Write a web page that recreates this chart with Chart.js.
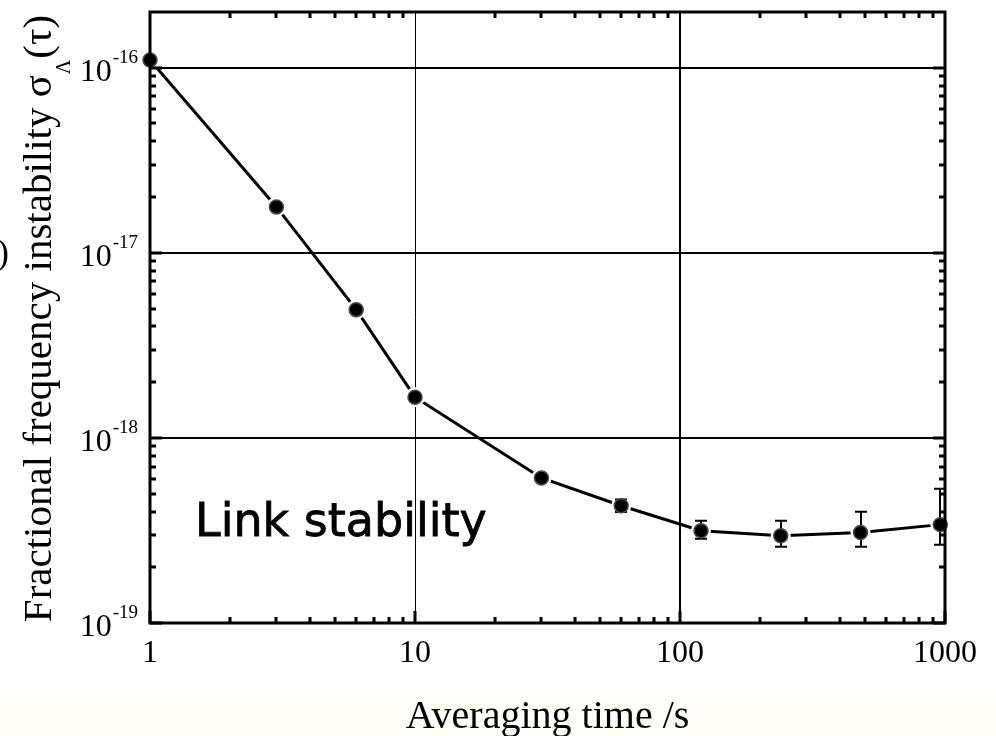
<!DOCTYPE html>
<html>
<head>
<meta charset="utf-8">
<script src="https://cdn.jsdelivr.net/npm/chart.js@4.4.1/dist/chart.umd.min.js"></script>
<style>
  html, body { margin: 0; padding: 0; background: #ffffff; }
  #wrap { width: 996px; height: 736px; }
</style>
</head>
<body>
<div id="wrap"><canvas id="c" width="996" height="736"></canvas></div>
<script>
// Averaging times (s) and Allan deviation of the link
const tau = [1, 3, 6, 10, 30, 60, 120, 240, 480, 960];
const sigma = [1.1e-16, 1.77e-17, 4.93e-18, 1.66e-18, 6.08e-19, 4.30e-19, 3.15e-19, 2.96e-19, 3.08e-19, 3.40e-19];
// Upper / lower ends of the error bars (null = no bar)
const errUpper = [null, null, null, null, 6.3e-19, 4.65e-19, 3.57e-19, 3.57e-19, 3.99e-19, 5.31e-19];
const errLower = [null, null, null, null, 5.85e-19, 3.98e-19, 2.85e-19, 2.58e-19, 2.58e-19, 2.65e-19];

// Axis ranges and labelled decades
const xRange = [1, 1000];
const yRange = [1e-19, 2e-16];
const xTickValues = [1, 10, 100, 1000];
const xTickLabels = ['1', '10', '100', '1000'];
const yTickValues = [1e-19, 1e-18, 1e-17, 1e-16];
const yTickExponents = ['-19', '-18', '-17', '-16'];
const xGridValues = [10, 100];
const yGridValues = [1e-18, 1e-17, 1e-16];
const minorMantissas = [2, 3, 4, 5, 6, 7, 8, 9];

const xTitle = 'Averaging time /s';
const yTitleMain = 'Fractional frequency instability \u03C3';
const yTitleSub = '\u039B';
const yTitleEnd = '(\u03C4)';
const noteText = 'Link stability';

const SERIF = '"Liberation Serif", "Times New Roman", serif';

const points = tau.map((t, i) => ({ x: t, y: sigma[i] }));

function minorValues(lo, hi) {
  const out = [];
  for (let d = lo; d < hi; d *= 10) {
    minorMantissas.forEach(m => { const v = m * d; if (v < hi) out.push(v); });
  }
  return out;
}

const decorations = {
  id: 'decorations',
  beforeDraw(chart) {
    const ctx = chart.ctx;
    ctx.save();
    ctx.fillStyle = '#ffffff';
    ctx.fillRect(0, 0, chart.width, chart.height);
    ctx.fillStyle = '#fefdf6';
    ctx.fillRect(0, 697, chart.width, chart.height - 697);
    ctx.restore();
  },
  afterDatasetDraw(chart, args) {
    if (args.index !== 1) return;
    // error bars sit between the white halo and the black marker
    const ctx = chart.ctx;
    const xs = chart.scales.x, ys = chart.scales.y;
    ctx.save();
    ctx.strokeStyle = '#000';
    ctx.lineWidth = 2;
    tau.forEach((t, i) => {
      if (errUpper[i] == null) return;
      const px = Math.round(xs.getPixelForValue(t));
      const yt = ys.getPixelForValue(errUpper[i]);
      const yb = ys.getPixelForValue(errLower[i]);
      ctx.beginPath();
      ctx.moveTo(px, yt); ctx.lineTo(px, yb);
      ctx.moveTo(px - 6, yt); ctx.lineTo(px + 6, yt);
      ctx.moveTo(px - 6, yb); ctx.lineTo(px + 6, yb);
      ctx.stroke();
    });
    ctx.restore();
  },
  afterDraw(chart) {
    const ctx = chart.ctx;
    const xs = chart.scales.x, ys = chart.scales.y;
    const a = chart.chartArea;
    ctx.save();

    // frame
    ctx.strokeStyle = '#000';
    ctx.lineWidth = 3;
    ctx.strokeRect(a.left, a.top, a.right - a.left, a.bottom - a.top);

    // inward ticks on all four sides
    ctx.lineWidth = 3;
    ctx.beginPath();
    minorValues(xRange[0], xRange[1]).forEach(v => {
      const px = Math.round(xs.getPixelForValue(v));
      ctx.moveTo(px, a.bottom); ctx.lineTo(px, a.bottom - 6);
      ctx.moveTo(px, a.top); ctx.lineTo(px, a.top + 6);
    });
    minorValues(1e-19, 1e-15).forEach(v => {
      if (v > yRange[1]) return;
      const py = Math.round(ys.getPixelForValue(v));
      ctx.moveTo(a.left, py); ctx.lineTo(a.left + 6, py);
      ctx.moveTo(a.right, py); ctx.lineTo(a.right - 6, py);
    });
    xTickValues.forEach(v => {
      const px = Math.round(xs.getPixelForValue(v));
      ctx.moveTo(px, a.bottom); ctx.lineTo(px, a.bottom - 12);
    });
    yTickValues.forEach(v => {
      const py = Math.round(ys.getPixelForValue(v));
      ctx.moveTo(a.left, py); ctx.lineTo(a.left + 12, py);
      ctx.moveTo(a.right, py); ctx.lineTo(a.right - 12, py);
    });
    ctx.stroke();

    ctx.fillStyle = '#000';
    // x tick labels
    ctx.font = '32px ' + SERIF;
    ctx.textAlign = 'center';
    ctx.textBaseline = 'alphabetic';
    xTickValues.forEach((v, i) => {
      ctx.fillText(xTickLabels[i], xs.getPixelForValue(v), 662);
    });

    // y tick labels: 10 with superscript exponent
    yTickValues.forEach((v, i) => {
      const py = ys.getPixelForValue(v);
      ctx.font = '19px ' + SERIF;
      const supW = ctx.measureText(yTickExponents[i]).width;
      ctx.textAlign = 'left';
      ctx.fillText(yTickExponents[i], 138 - supW, py - 5);
      ctx.font = '32px ' + SERIF;
      ctx.textAlign = 'right';
      ctx.fillText('10', 138 - supW - 1, py + 13);
    });

    // x title
    ctx.font = '40px ' + SERIF;
    ctx.textAlign = 'center';
    ctx.fillText(xTitle, (a.left + a.right) / 2, 728);

    // y title, rotated, with subscript
    ctx.save();
    ctx.translate(51, 318.5);
    ctx.rotate(-Math.PI / 2);
    ctx.textAlign = 'left';
    ctx.font = '41px ' + SERIF;
    const w1 = ctx.measureText(yTitleMain).width;
    const w3 = ctx.measureText(yTitleEnd).width;
    ctx.font = '20px ' + SERIF;
    const w2 = ctx.measureText(yTitleSub).width;
    const total = w1 + w2 + w3 + 2;
    let x0 = -total / 2;
    ctx.font = '41px ' + SERIF;
    ctx.fillText(yTitleMain, x0, 0);
    ctx.font = '20px ' + SERIF;
    ctx.fillText(yTitleSub, x0 + w1 + 1, 19);
    ctx.font = '41px ' + SERIF;
    ctx.fillText(yTitleEnd, x0 + w1 + w2 + 2, 0);
    ctx.restore();

    // stray parenthesis at the left edge
    ctx.font = '36px ' + SERIF;
    ctx.textAlign = 'right';
    ctx.fillText(')', 9, 264);

    // annotation
    ctx.font = '46px "DejaVu Sans", sans-serif';
    ctx.textAlign = 'left';
    ctx.lineWidth = 0.8;
    ctx.strokeStyle = '#000';
    ctx.fillText(noteText, 195, 536);
    ctx.strokeText(noteText, 195, 536);

    ctx.restore();
  }
};

new Chart(document.getElementById('c'), {
  type: 'line',
  data: {
    datasets: [
      {
        data: points, borderColor: '#000', borderWidth: 3, pointRadius: 0,
        fill: false, tension: 0, order: 3
      },
      {
        data: points, showLine: false, pointRadius: 10, pointBorderWidth: 0,
        pointBackgroundColor: '#fff', clip: false, order: 2
      },
      {
        data: points, showLine: false, pointRadius: 7, pointBorderWidth: 1.5,
        pointBackgroundColor: '#000', pointBorderColor: '#4a4a4a', clip: false, order: 1
      }
    ]
  },
  options: {
    responsive: false,
    animation: false,
    devicePixelRatio: 1,
    layout: { padding: { left: 0, top: 12, right: 51, bottom: 0 } },
    plugins: { legend: { display: false }, tooltip: { enabled: false } },
    scales: {
      x: {
        type: 'logarithmic', min: xRange[0], max: xRange[1],
        ticks: { display: false },
        border: { display: false },
        grid: {
          drawTicks: false, color: '#000',
          lineWidth: c => (c.tick && c.tick.value === 100 ? 2 : 1)
        },
        afterBuildTicks: s => { s.ticks = xGridValues.map(v => ({ value: v })); },
        afterFit: s => { s.height = 113; }
      },
      y: {
        type: 'logarithmic', min: yRange[0], max: yRange[1],
        ticks: { display: false },
        border: { display: false },
        grid: { drawTicks: false, color: '#000', lineWidth: 2 },
        afterBuildTicks: s => { s.ticks = yGridValues.map(v => ({ value: v })); },
        afterFit: s => { s.width = 150; }
      }
    }
  },
  plugins: [decorations]
});
</script>
</body>
</html>
